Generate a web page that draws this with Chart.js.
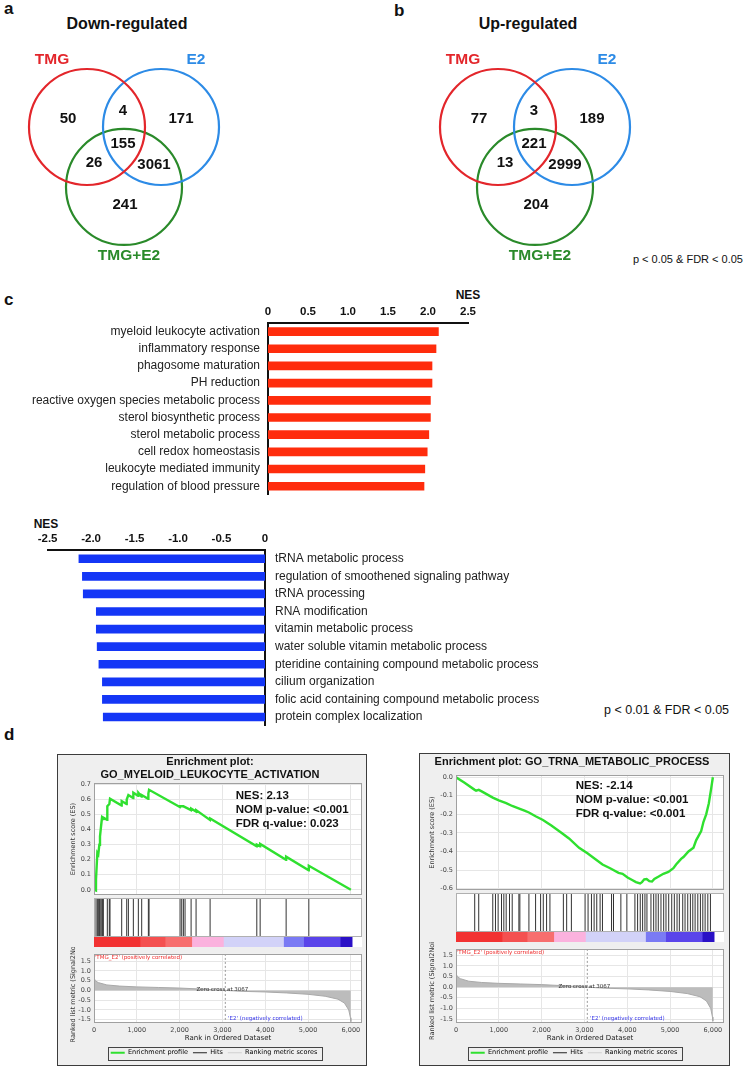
<!DOCTYPE html>
<html>
<head>
<meta charset="utf-8">
<title>Venn diagrams, NES bars and enrichment plots</title>
<script src="https://cdn.jsdelivr.net/npm/chart.js@4.4.1/dist/chart.umd.min.js"></script>
<style>
  body { margin: 0; background: #fff; }
  #page { position: relative; width: 745px; height: 1067px; overflow: hidden;
          font-family: "Liberation Sans", Arial, sans-serif; color: #111; }
  .txt { position: absolute; white-space: nowrap; line-height: 1; }
  .panel { font: bold 17px "Liberation Sans", Arial, sans-serif; }
  .vtitle { font-weight: bold; font-size: 16px; transform: translateX(-50%); }
  .nes { font-weight: bold; font-size: 12px; transform: translateX(-50%); }
  .note { font-size: 11px; }
  canvas { position: absolute; }
  .box { position: absolute; border: 1px solid #3c3c3c; background: #efefef; box-sizing: border-box; }
</style>
</head>
<body>
<div id="page">
  <div class="txt panel" style="left:4px;top:-1px">a</div>
  <div class="txt vtitle" style="left:127px;top:16px">Down-regulated</div>
  <div class="txt panel" style="left:394px;top:1px">b</div>
  <div class="txt vtitle" style="left:528px;top:16px">Up-regulated</div>
  <div class="txt note" style="right:2px;top:254px">p &lt; 0.05 &amp; FDR &lt; 0.05</div>
  <div class="txt panel" style="left:4px;top:290px">c</div>
  <div class="txt nes" style="left:468px;top:289px">NES</div>
  <div class="txt nes" style="left:46px;top:518px">NES</div>
  <div class="txt note" style="left:604px;top:704px;font-size:12.5px">p &lt; 0.01 &amp; FDR &lt; 0.05</div>
  <div class="txt panel" style="left:4px;top:725px">d</div>
</div>
<script>
// ---- data ----
var setNames = ['TMG', 'E2', 'TMG+E2'];
// regions: TMG only, TMG&E2, E2 only, all three, TMG&TMG+E2, E2&TMG+E2, TMG+E2 only
var downCounts = [50, 4, 171, 155, 26, 3061, 241];
var upCounts = [77, 3, 189, 221, 13, 2999, 204];

var upTerms = ['myeloid leukocyte activation', 'inflammatory response', 'phagosome maturation',
  'PH reduction', 'reactive oxygen species metabolic process', 'sterol biosynthetic process',
  'sterol metabolic process', 'cell redox homeostasis', 'leukocyte mediated immunity',
  'regulation of blood pressure'];
var upNES = [2.13, 2.10, 2.05, 2.05, 2.03, 2.03, 2.01, 1.99, 1.96, 1.95];

var downTerms = ['tRNA metabolic process', 'regulation of smoothened signaling pathway', 'tRNA processing',
  'RNA modification', 'vitamin metabolic process', 'water soluble vitamin metabolic process',
  'pteridine containing compound metabolic process', 'cilium organization',
  'folic acid containing compound metabolic process', 'protein complex localization'];
var downNES = [-2.14, -2.10, -2.09, -1.94, -1.94, -1.93, -1.91, -1.87, -1.87, -1.86];

// enrichment profiles [rank, ES]
var esMyeloid = [[0, 0], [46, -0.005], [47, 0.07], [78, 0.245], [100, 0.235], [125, 0.30], [140, 0.355],
  [164, 0.42], [187, 0.48], [215, 0.47], [218, 0.48], [305, 0.465], [311, 0.555], [358, 0.57], [374, 0.605],
  [645, 0.56], [647, 0.59], [760, 0.57], [764, 0.6], [803, 0.63], [915, 0.61], [919, 0.645], [1030, 0.625],
  [1036, 0.645], [1110, 0.62], [1114, 0.63], [1265, 0.605], [1270, 0.64], [1286, 0.665], [2005, 0.55],
  [2010, 0.555], [2049, 0.555], [2088, 0.555], [2127, 0.55], [2265, 0.53], [2268, 0.54], [2380, 0.52],
  [2384, 0.53], [2708, 0.465], [2712, 0.475], [3800, 0.29], [3803, 0.3], [3878, 0.29], [3881, 0.305],
  [4485, 0.2], [4488, 0.22], [5015, 0.13], [5018, 0.16], [6000, 0]];
var hitsMyeloid = [47, 78, 101, 125, 140, 164, 187, 203, 218, 311, 358, 374, 647, 764, 803, 919, 1036,
  1114, 1270, 1286, 2010, 2049, 2088, 2127, 2268, 2384, 2712, 3803, 3881, 4488, 5018];

var esTrna = [[0, 0], [200, -0.03], [437, -0.068], [470, -0.072], [531, -0.068], [600, -0.076], [859, -0.11],
  [1000, -0.125], [1172, -0.14], [1313, -0.155], [1492, -0.17], [1600, -0.18], [1703, -0.19], [1859, -0.21],
  [2031, -0.23], [2227, -0.26], [2469, -0.3], [2640, -0.33], [2875, -0.38], [3070, -0.41], [3250, -0.44],
  [3422, -0.47], [3600, -0.49], [3797, -0.515], [3891, -0.52], [4008, -0.54], [4125, -0.555], [4203, -0.565],
  [4300, -0.572], [4344, -0.565], [4398, -0.55], [4453, -0.548], [4516, -0.56], [4578, -0.562], [4633, -0.548],
  [4734, -0.535], [4844, -0.52], [4961, -0.51], [5078, -0.49], [5141, -0.47], [5258, -0.44], [5313, -0.43],
  [5430, -0.40], [5547, -0.38], [5609, -0.34], [5727, -0.29], [5781, -0.24], [5844, -0.20], [5906, -0.14],
  [5961, -0.06], [6000, 0]];
var hitsTrna = [437, 531, 859, 922, 984, 1063, 1117, 1172, 1250, 1313, 1469, 1492, 1703, 1859, 1976, 2039,
  2116, 2194, 2508, 2585, 2695, 3015, 3085, 3164, 3226, 3288, 3366, 3421, 3633, 3679, 3851, 3991, 4179,
  4242, 4304, 4359, 4413, 4460, 4554, 4617, 4671, 4725, 4788, 4851, 4905, 4968, 5039, 5100, 5163, 5217,
  5296, 5350, 5413, 5475, 5531, 5585, 5648, 5709, 5765, 5819, 5882, 5943];

// ranked list metric (Signal2Noise) [rank, value]
var rankedMetric = [[0, 0.65], [30, 0.5], [100, 0.4], [300, 0.28], [600, 0.22], [1000, 0.18], [1500, 0.15],
  [2000, 0.12], [2500, 0.07], [3067, 0], [3500, -0.05], [4000, -0.08], [4500, -0.13], [5000, -0.2],
  [5400, -0.3], [5700, -0.45], [5850, -0.65], [5950, -1.0], [5990, -1.4], [6000, -1.6]];
var rankTicks = [0, 1000, 2000, 3000, 4000, 5000, 6000];
var zeroCross = 3067;
var colorbarEdges = [0, 1075, 1660, 2283, 3023, 4426, 4894, 5751, 6030];
var colorbarColors = ['#f23232', '#f45050', '#f76e6e', '#fbb2de', '#d2d2f8', '#7a7af4', '#5a44ea', '#2a10c6'];

var statsMyeloid = ['NES: 2.13', 'NOM p-value: <0.001', 'FDR q-value: 0.023'];
var statsTrna = ['NES: -2.14', 'NOM p-value: <0.001', 'FDR q-value: <0.001'];

// ---- shared settings ----
var SANS = '"Liberation Sans", Arial, sans-serif';
var DEJAVU = '"DejaVu Sans", sans-serif';
var RANK_MAX = 6260;
var GRID = '#e6e6e6';
var GREEN = '#2fe02f';

Chart.defaults.animation = false;
Chart.defaults.responsive = false;
Chart.defaults.events = [];
Chart.defaults.layout.autoPadding = false;
Chart.defaults.plugins.legend.display = false;
Chart.defaults.plugins.tooltip.enabled = false;
Chart.defaults.font.family = SANS;

function makeCanvas(left, top, w, h) {
  var c = document.createElement('canvas');
  c.width = Math.round(w); c.height = Math.round(h);
  c.style.left = left + 'px'; c.style.top = top + 'px';
  c.style.width = Math.round(w) + 'px'; c.style.height = Math.round(h) + 'px';
  document.getElementById('page').appendChild(c);
  return c;
}

// text placed in data coordinates
var notesPlugin = {
  id: 'notes',
  afterDatasetsDraw: function (chart, args, opts) {
    var ctx = chart.ctx, xs = chart.scales.x, ys = chart.scales.y;
    (opts.items || []).forEach(function (n) {
      ctx.save();
      ctx.font = n.font;
      ctx.fillStyle = n.color || '#000';
      ctx.textAlign = n.align || 'center';
      ctx.textBaseline = 'middle';
      var lines = [].concat(n.text);
      lines.forEach(function (t, i) {
        ctx.fillText(t, xs.getPixelForValue(n.x), ys.getPixelForValue(n.y) + i * (n.lineHeight || 0));
      });
      ctx.restore();
    });
  }
};

// white plot background + thin frame
var framePlugin = {
  id: 'frame',
  beforeDraw: function (chart, args, opts) {
    var a = chart.chartArea, ctx = chart.ctx;
    if (opts.fill) { ctx.save(); ctx.fillStyle = opts.fill; ctx.fillRect(a.left, a.top, a.width, a.height); ctx.restore(); }
  },
  afterDraw: function (chart, args, opts) {
    if (!opts.color) return;
    var a = chart.chartArea, ctx = chart.ctx;
    ctx.save(); ctx.strokeStyle = opts.color; ctx.lineWidth = 1;
    ctx.strokeRect(Math.round(a.left) + 0.5, Math.round(a.top) + 0.5, Math.round(a.width) - 1, Math.round(a.height) - 1);
    ctx.restore();
  }
};

// border around the legend items
var legendBoxPlugin = {
  id: 'legendBox',
  afterDraw: function (chart) {
    var lg = chart.legend;
    if (!lg || !lg.legendHitBoxes || !lg.legendHitBoxes.length) return;
    var hb = lg.legendHitBoxes, ctx = chart.ctx;
    var l = Math.min.apply(null, hb.map(function (h) { return h.left; })) - 3;
    var r = Math.max.apply(null, hb.map(function (h) { return h.left + h.width; })) + 4;
    var t = hb[0].top - 3, b = hb[0].top + hb[0].height + 3;
    ctx.save(); ctx.strokeStyle = '#444'; ctx.lineWidth = 1;
    ctx.strokeRect(Math.round(l) + 0.5, Math.round(t) + 0.5, Math.round(r - l), Math.round(b - t));
    ctx.restore();
  }
};

// ---- a, b: Venn diagrams ----
var vennLayout = {
  centers: [[-0.638, 0], [0.638, 0], [0, -1.034]],
  nameAt: [[-1.24, 1.155], [1.24, 1.155], [0.086, -2.224]],
  regionAt: [[-0.966, 0.14], [-0.017, 0.28], [0.983, 0.14], [-0.017, -0.29], [-0.517, -0.62], [0.517, -0.655], [0.017, -1.345]]
};
var vennColors = ['#e3262b', '#2d8be6', '#2a8a2a'];

function drawVenn(left, counts) {
  var canvas = makeCanvas(left, 40, 254, 230);
  var items = setNames.map(function (name, i) {
    return { text: name, x: vennLayout.nameAt[i][0], y: vennLayout.nameAt[i][1], font: 'bold 15.5px ' + SANS, color: vennColors[i] };
  }).concat(counts.map(function (c, i) {
    return { text: String(c), x: vennLayout.regionAt[i][0], y: vennLayout.regionAt[i][1], font: 'bold 15px ' + SANS, color: '#111' };
  }));
  new Chart(canvas, {
    type: 'scatter',
    data: {
      datasets: setNames.map(function (name, i) {
        return {
          label: name,
          data: [{ x: vennLayout.centers[i][0], y: vennLayout.centers[i][1] }],
          pointRadius: 58,
          pointBackgroundColor: 'rgba(0,0,0,0)',
          pointBorderColor: vennColors[i],
          pointBorderWidth: 2.2
        };
      })
    },
    options: {
      layout: { padding: 0 },
      scales: {
        x: { display: false, min: -124 / 58, max: 130 / 58 },
        y: { display: false, min: -143 / 58, max: 87 / 58 }
      },
      plugins: { notes: { items: items } }
    },
    plugins: [notesPlugin]
  });
}
drawVenn(0, downCounts);
drawVenn(411, upCounts);

// ---- c: NES bars ----
function nesTick(v) { return v === 0 ? '0' : v.toFixed(1); }

new Chart(makeCanvas(0, 290, 480, 220), {
  type: 'bar',
  data: { labels: upTerms, datasets: [{ data: upNES, backgroundColor: '#ff2c0c', barThickness: 8 }] },
  options: {
    indexAxis: 'y',
    layout: { padding: { right: 10, bottom: 10 } },
    scales: {
      x: {
        position: 'top', min: 0, max: 2.5,
        ticks: { stepSize: 0.5, callback: nesTick, font: { size: 11.5, weight: 'bold' }, color: '#111', padding: 4 },
        grid: { display: false, drawTicks: false },
        border: { color: '#111', width: 2 },
        afterFit: function (s) { s.height = 33; }
      },
      y: {
        ticks: { font: { size: 12 }, color: '#222', padding: 8, autoSkip: false },
        grid: { display: false, drawTicks: false },
        border: { color: '#111', width: 2 },
        afterFit: function (s) { s.width = 268; }
      }
    }
  }
});

new Chart(makeCanvas(0, 510, 580, 233), {
  type: 'bar',
  data: { labels: downTerms, datasets: [{ data: downNES, backgroundColor: '#1436f6', barThickness: 8 }] },
  options: {
    indexAxis: 'y',
    layout: { padding: { left: 47.6, bottom: 10 } },
    scales: {
      x: {
        position: 'top', min: -2.5, max: 0,
        ticks: { stepSize: 0.5, callback: nesTick, font: { size: 11.5, weight: 'bold' }, color: '#111', padding: 4 },
        grid: { display: false, drawTicks: false },
        border: { color: '#111', width: 2 },
        afterFit: function (s) { s.height = 40; }
      },
      y: {
        position: 'right',
        ticks: { font: { size: 12 }, color: '#222', padding: 10, autoSkip: false },
        grid: { display: false, drawTicks: false },
        border: { color: '#111', width: 2 },
        afterFit: function (s) { s.width = 580 - 265; }
      }
    }
  }
});

// ---- d: enrichment plots ----
var tickFont = { family: DEJAVU, size: 6.5 };
var axTitleFont = { family: DEJAVU, size: 6.5 };
var legendItems = [
  { text: 'Enrichment profile', strokeStyle: GREEN, fillStyle: GREEN, lineWidth: 2, pointStyle: 'line', hidden: false },
  { text: 'Hits', strokeStyle: '#222', fillStyle: '#222', lineWidth: 1, pointStyle: 'line', hidden: false },
  { text: 'Ranking metric scores', strokeStyle: '#d0d0d0', fillStyle: '#d0d0d0', lineWidth: 1, pointStyle: 'line', hidden: false }
];

function yTicks() {
  return { includeBounds: false, font: tickFont, color: '#444', padding: 3, callback: function (v) { return v.toFixed(1); } };
}
function setRankTicks(s) { s.ticks = rankTicks.map(function (v) { return { value: v }; }); }

function gseaPlot(g) {
  var box = document.createElement('div');
  box.className = 'box';
  box.style.left = g.box[0] + 'px'; box.style.top = g.box[1] + 'px';
  box.style.width = (g.box[2] - g.box[0]) + 'px'; box.style.height = (g.box[3] - g.box[1]) + 'px';
  document.getElementById('page').appendChild(box);

  var cl = g.box[0] + 1, cr = g.box[2] - 1, cw = cr - cl;
  var padL = g.plotL - cl, padR = cr - g.plotR;
  var esTop = g.box[1] + 1;

  // enrichment score panel
  var esStats = { items: [{ text: g.stats, x: g.statsAt[0], y: g.statsAt[1], align: 'left', lineHeight: 13.8,
    font: 'bold 11.5px ' + SANS, color: '#111' }] };
  new Chart(makeCanvas(cl, esTop, cw, g.esBottom + 4 - esTop), {
    type: 'line',
    data: { datasets: [{ data: g.es.map(function (p) { return { x: p[0], y: p[1] }; }),
      borderColor: GREEN, borderWidth: 2.4, pointRadius: 0, tension: 0 }] },
    options: {
      layout: { padding: { right: padR, bottom: 4 } },
      scales: {
        x: { type: 'linear', min: 0, max: RANK_MAX,
          ticks: { display: false },
          afterBuildTicks: setRankTicks,
          grid: { color: GRID, drawTicks: false }, border: { display: false },
          afterFit: function (s) { s.height = 0; } },
        y: { min: g.esMin, max: g.esMax,
          ticks: Object.assign(yTicks(), { stepSize: 0.1 }),
          grid: { color: GRID, drawTicks: false }, border: { display: false },
          title: { display: true, text: 'Enrichment score (ES)', font: axTitleFont, color: '#333', padding: { top: g.yTitlePad, bottom: 0 } },
          afterFit: function (s) { s.width = padL; } }
      },
      plugins: {
        title: { display: true, text: g.title, font: { family: SANS, size: 11, weight: 'bold' }, color: '#111',
          padding: { top: g.titlePad[0], bottom: g.titlePad[1] } },
        notes: esStats,
        frame: { fill: '#fff', color: '#a0a0a0' }
      }
    },
    plugins: [framePlugin, notesPlugin]
  });

  // hits panel
  new Chart(makeCanvas(cl, g.esBottom, cw, g.hitsBottom - g.esBottom), {
    type: 'scatter',
    data: { datasets: [{ data: g.hits.map(function (r) { return { x: r, y: 0.5 }; }),
      pointStyle: 'line', rotation: 90, pointRadius: (g.hitsBottom - g.esBottom) / 2,
      pointBorderColor: '#333', pointBorderWidth: 1 }] },
    options: {
      layout: { padding: { left: padL, right: padR } },
      scales: { x: { display: false, min: 0, max: RANK_MAX }, y: { display: false, min: 0, max: 1 } },
      plugins: { frame: { fill: '#fff', color: '#b0b0b0' } }
    },
    plugins: [framePlugin]
  });

  // colour bar of the ranked list
  new Chart(makeCanvas(cl, g.hitsBottom, cw, g.barBottom - g.hitsBottom), {
    type: 'bar',
    data: { labels: [''], datasets: colorbarColors.map(function (c, i) {
      return { data: [[colorbarEdges[i], colorbarEdges[i + 1]]], backgroundColor: c,
        barPercentage: 1, categoryPercentage: 1, grouped: false };
    }) },
    options: {
      indexAxis: 'y',
      layout: { padding: { left: padL, right: padR } },
      scales: { x: { display: false, min: 0, max: RANK_MAX }, y: { display: false } },
      plugins: { frame: { fill: '#fff' } }
    },
    plugins: [framePlugin]
  });

  // ranked list metric panel
  var rkTop = g.barBottom;
  var rkNotes = { items: [
    { text: "'TMG_E2' (positively correlated)", x: 20, y: g.rkMax - 0.17, align: 'left', font: '5.5px ' + DEJAVU, color: '#ef2f2f' },
    { text: 'Zero cross at ' + zeroCross, x: 3000, y: 0.04, font: '5.5px ' + DEJAVU, color: '#333' },
    { text: "'E2' (negatively correlated)", x: 3130, y: g.rkMin + 0.22, align: 'left', font: '5.5px ' + DEJAVU, color: '#3434e8' }
  ] };
  new Chart(makeCanvas(cl, rkTop, cw, 1067 - rkTop), {
    type: 'line',
    data: { datasets: [
      { data: rankedMetric.map(function (p) { return { x: p[0], y: p[1] }; }),
        borderColor: '#a9a9a9', backgroundColor: '#bcbcbc', borderWidth: 1, fill: 'origin', pointRadius: 0, tension: 0 },
      { data: [{ x: zeroCross, y: g.rkMax }, { x: zeroCross, y: g.rkMin }],
        borderColor: '#9a9a9a', borderDash: [2, 2], borderWidth: 1, pointRadius: 0, fill: false }
    ] },
    options: {
      layout: { padding: { left: g.legendShift, right: padR, bottom: 1 } },
      scales: {
        x: { type: 'linear', min: 0, max: RANK_MAX,
          ticks: { font: tickFont, color: '#444', padding: 3, maxRotation: 0, autoSkip: false },
          afterBuildTicks: setRankTicks,
          grid: { color: GRID, drawTicks: false }, border: { display: false },
          title: { display: true, text: 'Rank in Ordered Dataset', font: { family: DEJAVU, size: 7 }, color: '#222', padding: { top: 0, bottom: 1.8 } },
          afterFit: function (s) { s.height = 1067 - 1 - 21.5 - g.rkBottom; } },
        y: { min: g.rkMin, max: g.rkMax,
          ticks: Object.assign(yTicks(), { stepSize: 0.5 }),
          grid: { color: GRID, drawTicks: false }, border: { display: false },
          title: { display: true, text: 'Ranked list metric (Signal2Noise)', font: axTitleFont, color: '#333',
            padding: { top: g.yTitlePad - g.legendShift, bottom: 0 } },
          afterFit: function (s) { s.width = padL - g.legendShift; } }
      },
      plugins: {
        legend: { display: true, position: 'bottom',
          labels: { usePointStyle: true, pointStyleWidth: 14, boxHeight: 6.5, padding: 5, color: '#222',
            font: { family: DEJAVU, size: 6.5 }, generateLabels: function () { return legendItems; } } },
        notes: rkNotes,
        frame: { fill: '#fff', color: '#a0a0a0' }
      }
    },
    plugins: [framePlugin, notesPlugin, legendBoxPlugin]
  });
}

gseaPlot({
  box: [57, 754, 367, 1066], plotL: 94, plotR: 362,
  title: ['Enrichment plot:', 'GO_MYELOID_LEUKOCYTE_ACTIVATION'], titlePad: [0.4, 1.2],
  esBottom: 898, hitsBottom: 937, barBottom: 947, rkBottom: 1023,
  esMin: -0.035, esMax: 0.71, es: esMyeloid, hits: hitsMyeloid,
  stats: statsMyeloid, statsAt: [3312, 0.623],
  rkMin: -1.67, rkMax: 1.87, yTitlePad: 11, legendShift: 8
});

gseaPlot({
  box: [419, 753, 730, 1066], plotL: 456, plotR: 724,
  title: ['Enrichment plot: GO_TRNA_METABOLIC_PROCESS'], titlePad: [1.1, 6.7],
  esBottom: 893, hitsBottom: 932, barBottom: 942, rkBottom: 1023,
  esMin: -0.608, esMax: 0.012, es: esTrna, hits: hitsTrna,
  stats: statsTrna, statsAt: [2796, -0.049],
  rkMin: -1.685, rkMax: 1.80, yTitlePad: 8, legendShift: 4
});
</script>
</body>
</html>
